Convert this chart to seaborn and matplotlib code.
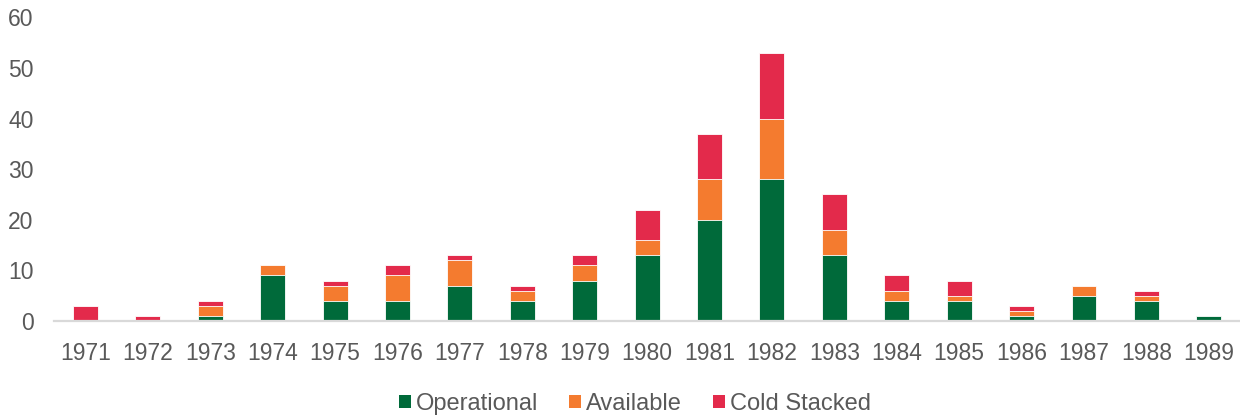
import matplotlib
matplotlib.use("Agg")
import matplotlib.pyplot as plt
import seaborn as sns
import pandas as pd
from matplotlib.patches import Patch

years = [str(y) for y in range(1971, 1990)]
operational = [0, 0, 1, 9, 4, 4, 7, 4, 8, 13, 20, 28, 13, 4, 4, 1, 5, 4, 1]
available   = [0, 0, 2, 2, 3, 5, 5, 2, 3, 3, 8, 12, 5, 2, 1, 1, 2, 1, 0]
cold_stacked = [3, 1, 1, 0, 1, 2, 1, 1, 2, 6, 9, 13, 7, 3, 3, 1, 0, 1, 0]

series_names = ["Operational", "Available", "Cold Stacked"]
colors = ["#006a3a", "#f47b2f", "#e32a4b"]

sns.set_theme(style="white")
plt.rcParams['font.family'] = ['Liberation Sans', 'DejaVu Sans']

df = pd.DataFrame({"year": years, "Operational": operational,
                   "Available": available, "Cold Stacked": cold_stacked})
df["c1"] = df["Operational"]
df["c2"] = df["Operational"] + df["Available"]
df["c3"] = df["c2"] + df["Cold Stacked"]

fig = plt.figure(figsize=(12.4, 4.19), dpi=100)
ax = fig.add_axes([0.0438, 0.2339, 0.9562, 0.7246])

for col, colr in zip(["c3", "c2", "c1"], colors[::-1]):
    sns.barplot(data=df, x="year", y=col, color=colr, width=0.40,
                edgecolor="white", linewidth=0.6, saturation=1, ax=ax, errorbar=None)

ax.set_ylim(0, 60)
ax.set_xlim(-0.5, 18.5)
ax.set_yticks(range(0, 61, 10))
ax.set_xlabel("")
ax.set_ylabel("")
for s in ["left", "right", "top"]:
    ax.spines[s].set_visible(False)
ax.spines["bottom"].set_color("#d9d9d9")
ax.spines["bottom"].set_linewidth(1.6)
ax.tick_params(axis="both", length=0, labelsize=16.5, colors="#595959")
ax.tick_params(axis="x", pad=15)
ax.tick_params(axis="y", pad=15)
ax.grid(False)

handles = [Patch(facecolor=c, edgecolor="none", label=n) for n, c in zip(series_names, colors)]
fig.legend(handles=handles, loc="center", bbox_to_anchor=(0.512, 0.036), ncol=3,
           frameon=False, fontsize=17, labelcolor="#595959",
           handlelength=0.52, handleheight=0.52, handletextpad=0.2, columnspacing=1.3)

fig.savefig("out.png", dpi=100, facecolor="white")
